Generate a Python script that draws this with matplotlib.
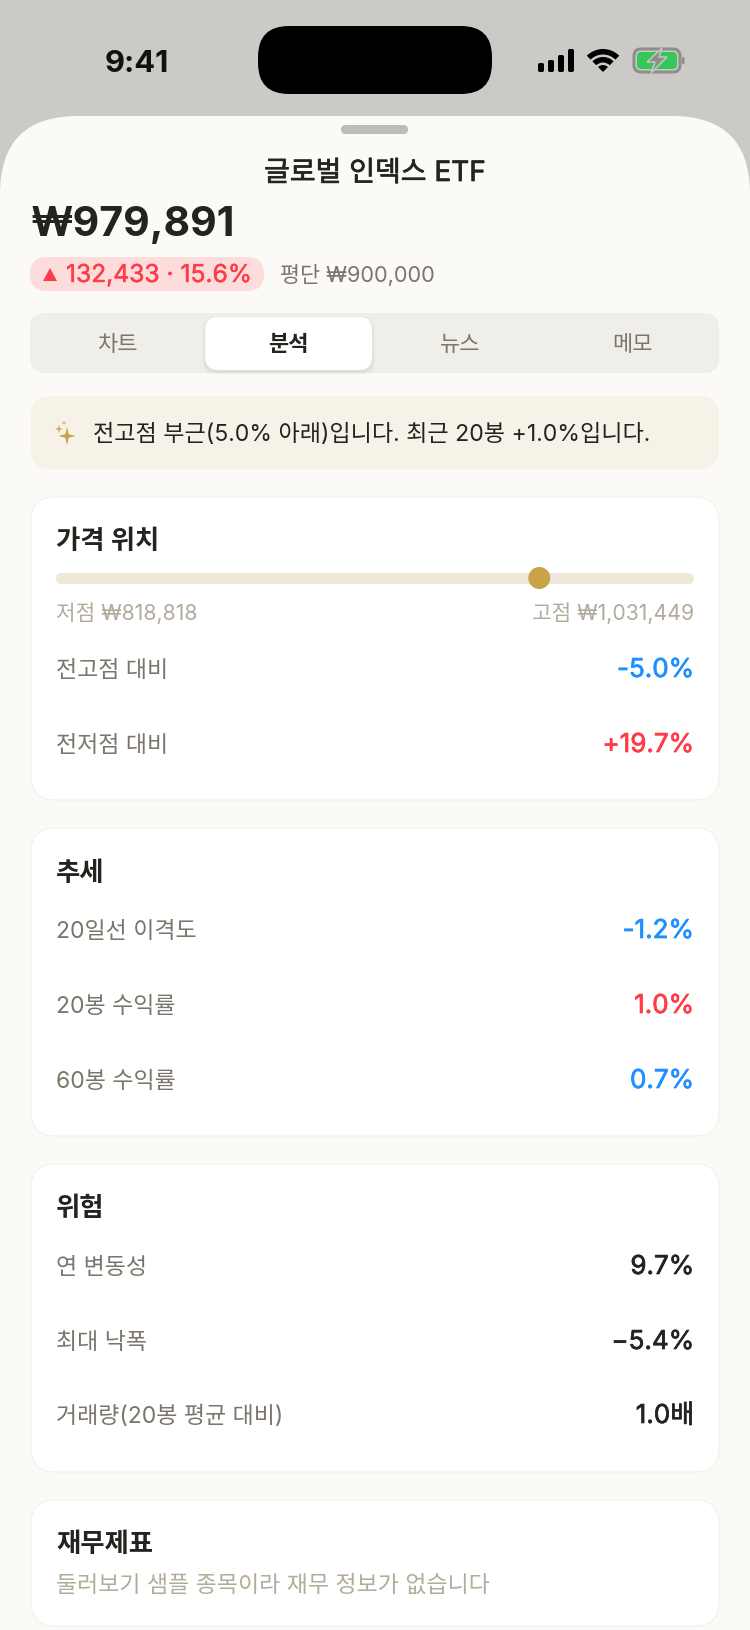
import matplotlib
matplotlib.use('Agg')
import matplotlib.pyplot as plt
import matplotlib.patheffects as pe
from matplotlib.patches import FancyBboxPatch, Circle, Wedge, Polygon

plt.rcParams['font.family'] = ['Inter', 'Noto Sans CJK KR', 'DejaVu Sans']

status_time = '9:41'
title = '글로벌 인덱스 ETF'
price = '₩979,891'
change = '132,433 · 15.6%'
avg_price = '평단 ₩900,000'
tabs = ['차트', '분석', '뉴스', '메모']
active_tab = 1
banner = '전고점 부근(5.0% 아래)입니다. 최근 20봉 +1.0%입니다.'

low_price = 818818
high_price = 1031449
cur_price = 979891
low_label = '저점 ₩818,818'
high_label = '고점 ₩1,031,449'

pos_title = '가격 위치'
pos_rows = ['전고점 대비', '전저점 대비']
pos_vals = ['-5.0%', '+19.7%']
trend_title = '추세'
trend_rows = ['20일선 이격도', '20봉 수익률', '60봉 수익률']
trend_vals = ['-1.2%', '1.0%', '0.7%']
risk_title = '위험'
risk_rows = ['연 변동성', '최대 낙폭', '거래량(20봉 평균 대비)']
risk_vals = ['9.7%', '−5.4%', '1.0배']
fin_title = '재무제표'
fin_note = '둘러보기 샘플 종목이라 재무 정보가 없습니다'

GRAY_TOP = '#CBCAC6'
PAGE = '#FBFAF6'
INK = '#24231F'
MUTED = '#7B766B'
FAINT = '#B3AC9C'
RED = '#FF3B47'
BLUE = '#1E90FF'
GOLD = '#C9A24A'

fig = plt.figure(figsize=(7.5, 16.3), dpi=100, facecolor=GRAY_TOP)
ax = fig.add_axes([0, 0, 1, 1])
ax.set_xlim(0, 750)
ax.set_ylim(1630, 0)
ax.axis('off')


def box(x0, y0, x1, y1, r, color, edge='none', lw=0, z=1, alpha=None):
    p = FancyBboxPatch((x0, y0), x1 - x0, y1 - y0, boxstyle='round,pad=0,rounding_size=%s' % r,
                       fc=color, ec=edge, lw=lw, zorder=z, alpha=alpha)
    ax.add_patch(p)
    return p


def txt(x, y, s, px, color=INK, weight='normal', ha='left', thick=0):
    # y is the baseline, px the font size in pixels, thick fakes a medium weight
    t = ax.text(x, y, s, fontsize=px * 0.72, color=color, fontweight=weight, ha=ha, va='baseline', zorder=10)
    if thick:
        t.set_path_effects([pe.withStroke(linewidth=thick, foreground=color)])
    return t


def star(cx, cy, rx, ry, color):
    w = 0.2
    pts = [(cx, cy - ry), (cx + rx * w, cy - ry * w), (cx + rx, cy), (cx + rx * w, cy + ry * w),
           (cx, cy + ry), (cx - rx * w, cy + ry * w), (cx - rx, cy), (cx - rx * w, cy - ry * w)]
    ax.add_patch(Polygon(pts, closed=True, fc=color, ec='none', zorder=10))


# status bar
txt(137, 72, status_time, 31, '#111111', 'bold', 'center')
box(258, 26, 492, 94, 31, '#000000', z=5)
for x0, top in zip([538, 548, 558, 568], [63, 60, 55, 49]):
    box(x0, top, x0 + 6, 72, 1.8, '#000000', z=5)
ax.add_patch(Wedge((603, 72), 23, 225, 315, width=5.5, fc='#000000', ec='none', zorder=5))
ax.add_patch(Wedge((603, 72), 15, 225, 315, width=5.5, fc='#000000', ec='none', zorder=5))
ax.add_patch(Wedge((603, 72), 7, 225, 315, fc='#000000', ec='none', zorder=5))
box(634, 49, 680, 72, 7, 'none', edge='#8F8E8A', lw=2.2, z=5)
box(637, 52, 677, 69, 4.5, '#34C759', z=5)
box(682, 57, 684.5, 64, 1, '#8F8E8A', z=5)
ax.add_patch(Polygon([(662, 48), (647, 62), (655, 62), (651, 73), (667, 57), (659, 57)], closed=True,
                     fc='#8F8E8A', ec=GRAY_TOP, lw=1.0, zorder=6))

# sheet
box(0, 116, 750, 1800, 78, PAGE, z=1)
box(341, 125, 408, 134, 4.5, '#BDBCB9', z=2)
txt(375, 181, title, 28, INK, 'normal', 'center', thick=0.5)
txt(31, 236, price, 41, INK, 'bold')

# change pill
box(30, 257, 264, 291, 17, '#FDDCDC', z=2)
ax.add_patch(Polygon([(50, 268), (57, 281), (43, 281)], closed=True, fc=RED, ec='none', zorder=3))
txt(66, 282, change, 24.6, RED, 'normal', thick=0.3)
txt(280, 282, avg_price, 21.8, MUTED)

# tabs
box(30, 313, 719, 373, 15, '#EFEEE9', z=2)
tab_step = 171.67
for i, label in enumerate(tabs):
    cx = 117 + tab_step * i
    if i == active_tab:
        for grow, a in [(3, 0.012), (2, 0.02), (1, 0.03)]:
            box(cx - 83.5 - grow, 317 - grow + 2, cx + 83.5 + grow, 370 + grow + 2, 13, '#000000', z=3, alpha=a)
        box(cx - 83.5, 317, cx + 83.5, 370, 13, '#FFFFFF', z=4)
        txt(cx, 351, label, 22, INK, 'bold', 'center')
    else:
        txt(cx, 351, label, 22, MUTED, 'normal', 'center')

# insight banner
box(31, 396, 719, 469, 20, '#F6F2E8', z=2)
star(67, 436, 8.5, 9, GOLD)
star(59, 429, 4, 4.5, GOLD)
star(64, 423, 2.5, 2.5, GOLD)
txt(93, 441, banner, 23.1, INK)


def card(y0, y1):
    box(31, y0, 719, y1, 24, '#FFFFFF', edge='#F3F0E8', lw=0.8, z=2)


def rows(labels, values, colors, ys):
    for label, value, color, y in zip(labels, values, colors, ys):
        txt(56, y + 8, label, 23, MUTED)
        txt(694, y + 8, value, 26, color, 'normal', 'right', thick=0.5)


# price position card
card(497, 800)
txt(56, 549, pos_title, 26.4, INK, 'bold')
box(56, 573, 694, 584, 5.5, '#EEE7DA', z=3)
frac = (cur_price - low_price) / (high_price - low_price)
ax.add_patch(Circle((56 + frac * (694 - 56), 578), 11, fc=GOLD, ec='none', zorder=4))
txt(56, 620, low_label, 21.3, FAINT)
txt(694, 620, high_label, 21.3, FAINT, ha='right')
rows(pos_rows, pos_vals, [BLUE, RED], [669, 744])

# trend card
card(828, 1136)
txt(56, 881, trend_title, 26.4, INK, 'bold')
rows(trend_rows, trend_vals, [BLUE, RED, BLUE], [930, 1005, 1080])

# risk card
card(1164, 1472)
txt(56, 1216, risk_title, 26.4, INK, 'bold')
rows(risk_rows, risk_vals, [INK, INK, INK], [1266, 1341, 1415])

# financials card
card(1500, 1626)
txt(56, 1552, fin_title, 26.4, INK, 'bold')
txt(56, 1592, fin_note, 22.9, FAINT)

fig.savefig('out.png', dpi=100, facecolor=fig.get_facecolor())
